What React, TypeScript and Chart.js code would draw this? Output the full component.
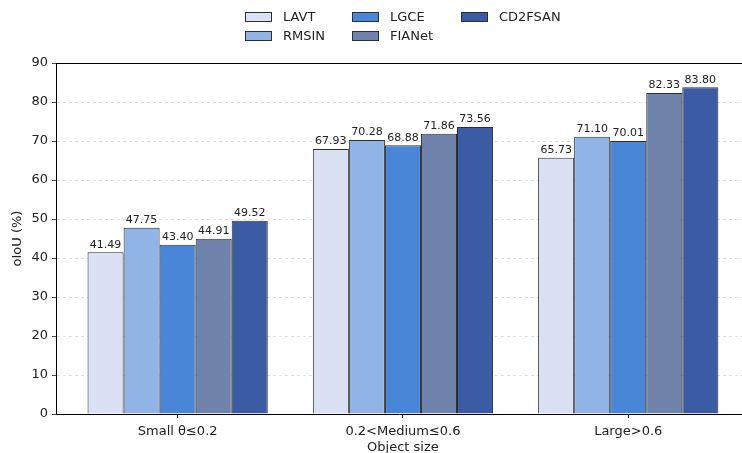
import React, { useEffect, useRef } from "react";
import { Chart, registerables } from "chart.js";

Chart.register(...registerables);

const categories = ["Small θ≤0.2", "0.2<Medium≤0.6", "Large>0.6"];
const methods = ["LAVT", "RMSIN", "LGCE", "FIANet", "CD2FSAN"];
const lavt = [41.49, 67.93, 65.73];
const rmsin = [47.75, 70.28, 71.1];
const lgce = [43.4, 68.88, 70.01];
const fianet = [44.91, 71.86, 82.33];
const cd2fsan = [49.52, 73.56, 83.8];
const seriesValues = [lavt, rmsin, lgce, fianet, cd2fsan];
const colors = ["#dbe1f4", "#91b4e7", "#4a86d7", "#7083ad", "#3b5ca5"];
const yTicks = [0, 10, 20, 30, 40, 50, 60, 70, 80, 90];
const xTitle = "Object size";
const yTitle = "oIoU (%)";

const FONT = "'DejaVu Sans', sans-serif";
const EDGE = "#2e2e2e";
const TEXT = "#222222";

export default function App() {
  const ref = useRef<HTMLCanvasElement | null>(null);

  useEffect(() => {
    document.body.style.margin = "0";
    const canvas = ref.current;
    if (!canvas) return;

    const extras = {
      id: "extras",
      afterDatasetsDraw(chart: any) {
        const ctx = chart.ctx;
        ctx.save();
        ctx.font = `11px ${FONT}`;
        ctx.fillStyle = TEXT;
        ctx.textAlign = "center";
        ctx.textBaseline = "bottom";
        chart.data.datasets.forEach((ds: any, di: number) => {
          const meta = chart.getDatasetMeta(di);
          meta.data.forEach((el: any, i: number) => {
            ctx.fillText(seriesValues[di][i].toFixed(2), el.x, el.y - 2);
          });
        });
        ctx.restore();
      },
      afterDraw(chart: any) {
        const ctx = chart.ctx;
        const ca = chart.chartArea;
        ctx.save();
        // top spine
        ctx.strokeStyle = "#000";
        ctx.lineWidth = 1;
        ctx.beginPath();
        ctx.moveTo(ca.left, Math.round(ca.top) + 0.5);
        ctx.lineTo(ca.right, Math.round(ca.top) + 0.5);
        ctx.stroke();
        // x-axis title, centred on the data range
        const xs = chart.scales.x;
        ctx.font = `13px ${FONT}`;
        ctx.fillStyle = TEXT;
        ctx.textAlign = "center";
        ctx.textBaseline = "middle";
        ctx.fillText(xTitle, (xs.getPixelForValue(0) + xs.getPixelForValue(2)) / 2, 448);
        // legend (column-major, 3 columns x 2 rows)
        const colX = [245, 352, 461];
        const rowY = [17, 36];
        ctx.textAlign = "left";
        methods.forEach((m, i) => {
          const col = Math.floor(i / 2);
          const row = i % 2;
          const x = colX[col];
          const y = rowY[row];
          ctx.fillStyle = colors[i];
          ctx.fillRect(x, y - 5, 27, 10);
          ctx.strokeStyle = EDGE;
          ctx.lineWidth = 1;
          ctx.strokeRect(x + 0.5, y - 4.5, 26, 9);
          ctx.fillStyle = TEXT;
          ctx.fillText(m, x + 38, y + 1);
        });
        ctx.restore();
      },
    };

    const chart = new Chart(canvas, {
      type: "bar",
      data: {
        datasets: methods.map((m, di) => ({
          label: m,
          data: seriesValues[di].map((v, i) => ({ x: i, y: v })),
          backgroundColor: colors[di],
          borderColor: EDGE,
          borderWidth: 1,
          categoryPercentage: 0.8,
          barPercentage: 1.0,
        })),
      },
      options: {
        responsive: false,
        animation: false,
        layout: { padding: { top: 63, right: 0, left: 0, bottom: 0 } },
        plugins: {
          legend: { display: false },
          tooltip: { enabled: false },
        },
        scales: {
          x: {
            type: "linear",
            min: -0.54,
            max: 2.505,
            offset: false,
            afterBuildTicks: (scale: any) => {
              scale.ticks = categories.map((_, i) => ({ value: i }));
            },
            afterFit: (scale: any) => {
              scale.height = 39;
            },
            grid: {
              offset: false,
              drawOnChartArea: false,
              drawTicks: true,
              tickLength: 4,
              tickColor: TEXT,
            },
            border: { color: "#000", width: 1 },
            ticks: {
              autoSkip: false,
              maxRotation: 0,
              minRotation: 0,
              padding: 6,
              color: TEXT,
              font: { family: FONT, size: 13 },
              callback: (v: any) => categories[Math.round(Number(v))] ?? "",
            },
            title: { display: false },
          },
          y: {
            min: 0,
            max: 90,
            afterBuildTicks: (scale: any) => {
              scale.ticks = yTicks.map((v) => ({ value: v }));
            },
            afterFit: (scale: any) => {
              scale.width = 56;
            },
            grid: {
              color: "#d9d9d9",
              lineWidth: 0.8,
              drawTicks: true,
              tickLength: 4,
              tickColor: TEXT,
              tickBorderDash: [],
            } as any,
            border: { color: "#000", width: 1, dash: [3, 3] },
            ticks: {
              padding: 4,
              color: TEXT,
              font: { family: FONT, size: 13 },
            },
            title: {
              display: true,
              text: yTitle,
              color: TEXT,
              font: { family: FONT, size: 13, lineHeight: 1 },
              padding: { top: 11, bottom: 0 },
            },
          },
        },
      },
      plugins: [extras],
    } as any);

    return () => {
      chart.destroy();
    };
  }, []);

  return (
    <div>
      <canvas ref={ref} width={742} height={453} style={{ display: "block" }} />
    </div>
  );
}
